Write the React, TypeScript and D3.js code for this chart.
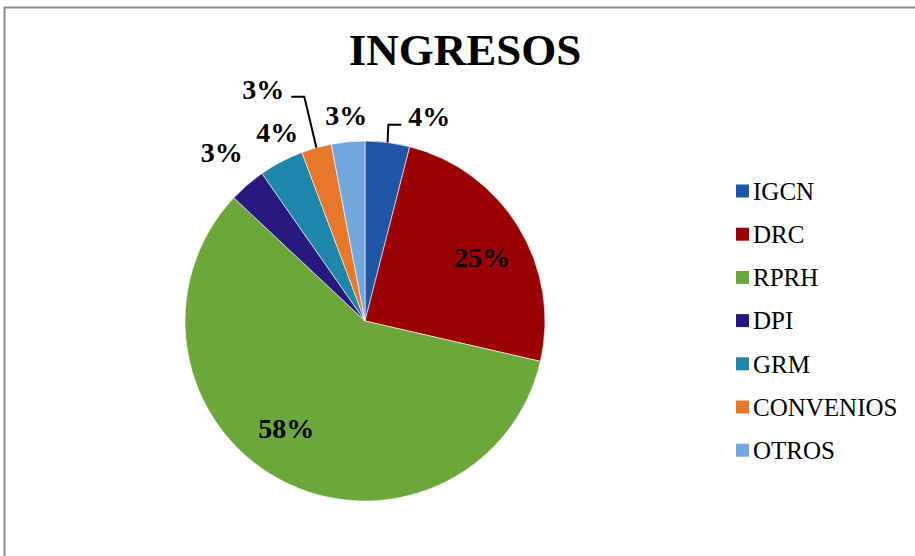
import React from "react";
import * as d3 from "d3";

// ---- data ----
const categories = ["IGCN", "DRC", "RPRH", "DPI", "GRM", "CONVENIOS", "OTROS"];
const values = [4.0, 24.6, 58.4, 3.3, 4.0, 2.7, 3.0];
const percentLabels = ["4%", "25%", "58%", "3%", "4%", "3%", "3%"];
const colors = ["#1F56A5", "#9A0004", "#6BA73B", "#28197F", "#1F86AB", "#E8772B", "#6FA7DE"];
const titleText = "INGRESOS";

// ---- layout ----
const W = 915;
const H = 556;
const CX = 365;
const CY = 321;
const R = 180;
const FONT = "'Liberation Serif', 'Times New Roman', Times, serif";
const LABEL_SIZE = 28;
// label placement: inside (radius fraction) or outside (radius + nudge)
const labelInside = [false, true, true, false, false, false, false];
const labelNudge: [number, number][] = [
  [38, 4],
  [5, 4],
  [-17, -9],
  [-6, -10],
  [10, -3],
  [-45, -30],
  [1, 3],
];
const hasLeader = [true, false, false, false, false, true, false];

export default function App() {
  const pie = d3
    .pie<number>()
    .sort(null)
    .value((d) => d)
    .startAngle(0)
    .endAngle(2 * Math.PI);
  const arcs = pie(values);
  const arc = d3.arc<d3.PieArcDatum<number>>().innerRadius(0).outerRadius(R);
  const inner = d3.arc<d3.PieArcDatum<number>>().innerRadius(R * 0.73).outerRadius(R * 0.73);

  const polar = (a: number, r: number): [number, number] => [
    Math.sin(a) * r,
    -Math.cos(a) * r,
  ];

  const labels = arcs.map((a, i) => {
    const mid = (a.startAngle + a.endAngle) / 2;
    let [x, y] = labelInside[i] ? (inner.centroid(a) as [number, number]) : polar(mid, R + 30);
    x += labelNudge[i][0];
    y += labelNudge[i][1];
    const txt = percentLabels[i];
    const digits = txt.length - 1;
    const w = LABEL_SIZE * (0.5 * digits + 1.0);
    let leader: string | null = null;
    if (hasLeader[i]) {
      const [sx, sy] = polar(mid, R);
      const onRight = x > sx;
      const edge = onRight ? x - w / 2 : x + w / 2;
      const dir = onRight ? -1 : 1;
      const ly = y + 8;
      const pts: [number, number][] = [
        [sx, sy],
        [edge + dir * 20, ly],
        [edge + dir * 7, ly],
      ];
      leader = d3.line()(pts);
    }
    return { x, y, txt, leader };
  });

  const legendX = 736;
  const legendY0 = 191;
  const legendStep = 43.2;
  const sq = 13;

  return (
    <svg
      width={W}
      height={H}
      style={{ position: "absolute", left: 0, top: 0, display: "block", background: "#fff" }}
    >
      <rect x={0} y={0} width={W} height={H} fill="#ffffff" />
      <line x1={4} y1={7.5} x2={W} y2={7.5} stroke="#8c8c8c" strokeWidth={2} />
      <line x1={4.5} y1={7} x2={4.5} y2={H} stroke="#8c8c8c" strokeWidth={2} />
      <text
        x={465}
        y={65}
        textAnchor="middle"
        fontFamily={FONT}
        fontWeight="bold"
        fontSize={45}
        fill="#000"
      >
        {titleText}
      </text>
      <g transform={`translate(${CX},${CY})`}>
        {arcs.map((a, i) => (
          <path key={i} d={arc(a) || ""} fill={colors[i]} stroke="#ffffff" strokeWidth={0.6} />
        ))}
        {labels.map((l, i) =>
          l.leader ? (
            <path key={"l" + i} d={l.leader} fill="none" stroke="#000" strokeWidth={2} />
          ) : null
        )}
        {labels.map((l, i) => (
          <text
            key={"t" + i}
            x={l.x}
            y={l.y}
            dy="0.35em"
            textAnchor="middle"
            fontFamily={FONT}
            fontWeight="bold"
            fontSize={LABEL_SIZE}
            fill="#000"
          >
            {l.txt}
          </text>
        ))}
      </g>
      <g>
        {categories.map((c, i) => {
          const y = legendY0 + i * legendStep;
          return (
            <g key={c}>
              <rect x={legendX} y={y - sq / 2} width={sq} height={sq} fill={colors[i]} />
              <text
                x={legendX + sq + 4}
                y={y}
                dy="0.35em"
                fontFamily={FONT}
                fontSize={25}
                fill="#000"
              >
                {c}
              </text>
            </g>
          );
        })}
      </g>
    </svg>
  );
}
